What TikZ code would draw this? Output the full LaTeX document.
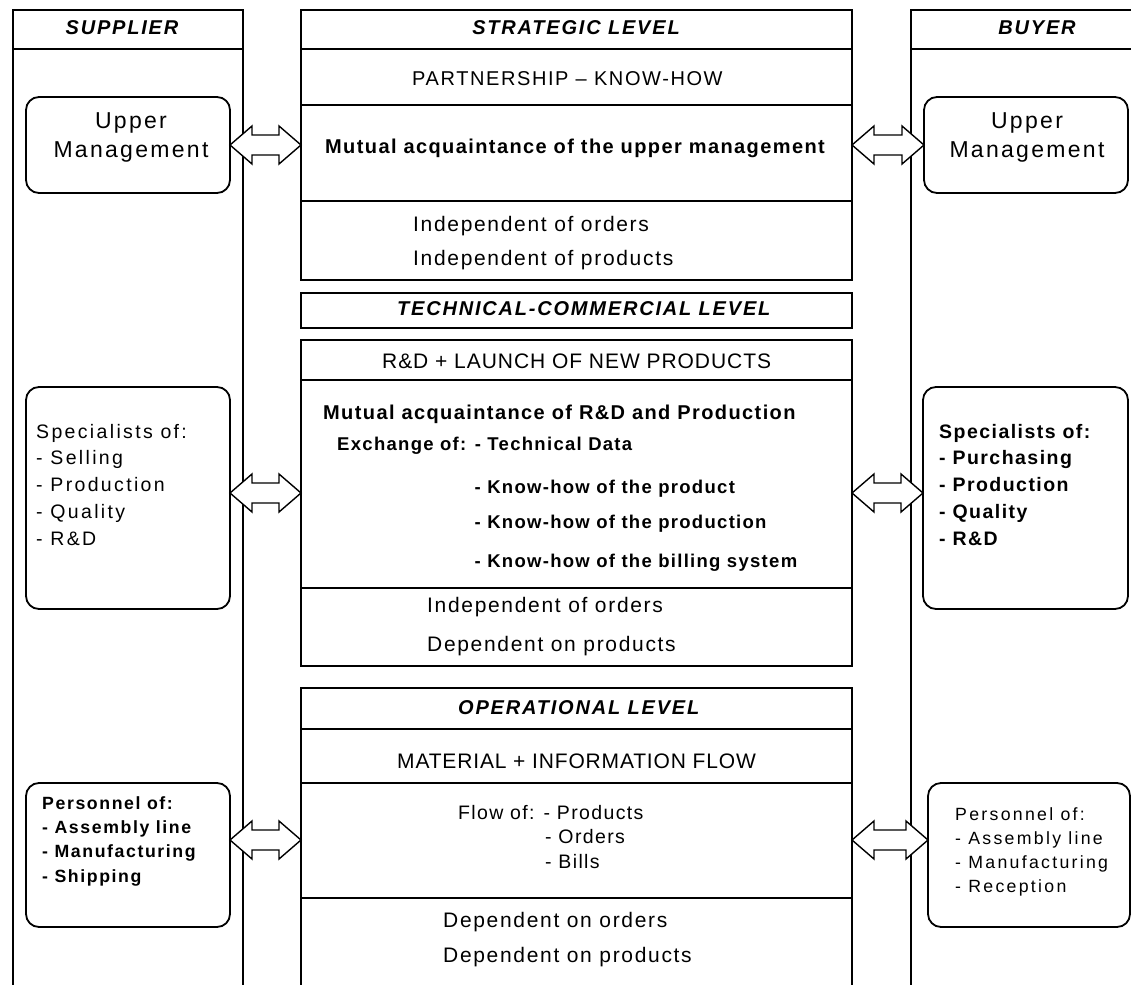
\documentclass[tikz,border=0pt]{standalone}
\usepackage{fontspec}
\setmainfont{Liberation Sans}[LetterSpace=7]
\usetikzlibrary{calc}
\newcommand\fsz[2]{\fontsize{#1}{#2}\selectfont}
\newcommand\lsp[1]{\addfontfeature{LetterSpace=#1}}
\begin{document}
\begin{tikzpicture}[x=1pt,y=-1pt,
  col/.style={draw, line width=1.5pt, inner sep=0pt, outer sep=0pt, anchor=north west},
  cbox/.style={draw, line width=1.8pt, inner sep=0pt, outer sep=0pt, anchor=north west},
  rbox/.style={draw, line width=1.8pt, rounded corners=13pt, inner sep=0pt, outer sep=0pt, anchor=north west},
  thk/.style={line width=2.8pt},
  thn/.style={line width=1.3pt},
  t/.style={inner sep=0pt, anchor=base west},
  hdr/.style={inner sep=0pt, anchor=base, font=\fsz{20}{22}\bfseries\itshape\lsp{9}},
  reg/.style={t, font=\fsz{21}{24}\lsp{8}},
  captxt/.style={t, font=\fsz{21}{24}\lsp{4.5}},
  bld/.style={t, font=\fsz{20}{24}\bfseries},
  exb/.style={t, font=\fsz{18.5}{22}\bfseries},
  flw/.style={t, font=\fsz{19.5}{24}},
  dbl/.style={draw, fill=white, line width=1.4pt, miter limit=10,
    to path={let \p1=(\tikztostart), \p2=(\tikztotarget) in
      (\x1,\y1) -- (\x1+22pt,\y1+19pt) -- (\x1+22pt,\y1+10pt) -- (\x2-22pt,\y1+10pt)
      -- (\x2-22pt,\y1+19pt) -- (\x2,\y1) -- (\x2-22pt,\y1-19pt) -- (\x2-22pt,\y1-10pt)
      -- (\x1+22pt,\y1-10pt) -- (\x1+22pt,\y1-19pt) -- cycle}}
]
\useasboundingbox (0,0) rectangle (1131,984);
\clip (0,0) rectangle (1131,984);
\fill[white] (0,0) rectangle (1131,984);

% side columns
\node[col, minimum width=230, minimum height=1000] (supcol) at (13,10) {};
\node[col, minimum width=252, minimum height=1000] (buycol) at (911,10) {};
\draw[thk] (13,49) -- (243,49);
\draw[thk] (911,49) -- (1163,49);
\node[hdr] (suph) at (122,35) {SUPPLIER};
\node[hdr] (buyh) at (1037,35) {BUYER};

% strategic level
\node[cbox, minimum width=551, minimum height=270] (strat) at (301,10) {};
\draw[thk] (301,49) -- (852,49);
\draw[thn] (301,105) -- (852,105);
\draw[thk] (301,201) -- (852,201);
\node[hdr] (strath) at (576,35) {STRATEGIC LEVEL};
\node[t, font=\fsz{20}{24}\lsp{8}] (part) at (412,86) {PARTNERSHIP – KNOW-HOW};
\node[bld, anchor=base] (mut1) at (575,154) {Mutual acquaintance of the upper management};
\node[reg] (ind1) at (413,232) {Independent of orders};
\node[reg] (ind2) at (413,265) {Independent of products};

% technical-commercial level
\node[cbox, minimum width=551, minimum height=35] (tech) at (301,293) {};
\node[hdr, anchor=base west] (techh) at (397,315.5) {TECHNICAL-COMMERCIAL LEVEL};
\node[cbox, minimum width=551, minimum height=326] (rd) at (301,340) {};
\draw[thk] (301,380) -- (852,380);
\draw[thk] (301,588) -- (852,588);
\node[captxt] (rdt) at (382,368) {R\&D + LAUNCH OF NEW PRODUCTS};
\node[bld] (mut2) at (323,419) {Mutual acquaintance of R\&D and Production};
\node[exb] (ex1) at (337,450) {Exchange of: - Technical Data};
\node[exb] (ex2) at (474.5,493) {- Know-how of the product};
\node[exb] (ex3) at (474.5,528) {- Know-how of the production};
\node[exb] (ex4) at (474.5,567) {- Know-how of the billing system};
\node[reg] (ind3) at (427,612) {Independent of orders};
\node[reg] (dep1) at (427,651) {Dependent on products};

% operational level
\node[cbox, minimum width=551, minimum height=320] (oper) at (301,688) {};
\draw[thn] (301,729) -- (852,729);
\draw[thk] (301,783) -- (852,783);
\draw[thk] (301,898) -- (852,898);
\node[hdr, anchor=base west] (operh) at (458,714) {OPERATIONAL LEVEL};
\node[t, font=\fsz{21}{24}\lsp{4}] (mat) at (397,768) {MATERIAL + INFORMATION FLOW};
\node[flw] (fl1) at (458,819) {Flow of: - Products};
\node[flw] (fl2) at (545,843) {- Orders};
\node[flw] (fl3) at (545,868) {- Bills};
\node[reg] (dep2) at (443,927) {Dependent on orders};
\node[reg] (dep3) at (443,962) {Dependent on products};

% rounded boxes
\node[rbox, minimum width=204, minimum height=96] (um1) at (26,97) {};
\node[rbox, minimum width=204, minimum height=96] (um2) at (924,97) {};
\node[rbox, minimum width=204, minimum height=222] (sp1) at (26,387) {};
\node[rbox, minimum width=205, minimum height=222] (sp2) at (923,387) {};
\node[rbox, minimum width=204, minimum height=144] (pe1) at (26,783) {};
\node[rbox, minimum width=202, minimum height=144] (pe2) at (928,783) {};

\node[inner sep=0pt, anchor=base, align=center, font=\fsz{23}{29}\lsp{10}] (um1t) at (131,158) {Upper\\Management};
\node[inner sep=0pt, anchor=base, align=center, font=\fsz{23}{29}\lsp{10}] (um2t) at (1027,158) {Upper\\Management};
\node[t, align=left, font=\fsz{19.5}{26.8}\lsp{12}] (sp1t) at (36,545.2) {Specialists of:\\- Selling\\- Production\\- Quality\\- R\&D};
\node[t, align=left, font=\fsz{19.5}{26.8}\bfseries\lsp{7.5}] (sp2t) at (939,545.2) {Specialists of:\\- Purchasing\\- Production\\- Quality\\- R\&D};
\node[t, align=left, font=\fsz{17.7}{24.3}\bfseries\lsp{9}] (pe1t) at (42,882) {Personnel of:\\- Assembly line\\- Manufacturing\\- Shipping};
\node[t, align=left, font=\fsz{17.7}{24}\lsp{13}] (pe2t) at (955,892) {Personnel of:\\- Assembly line\\- Manufacturing\\- Reception};

% double arrows
\coordinate (a2l) at ([yshift=5pt]sp1.east);
\coordinate (a2r) at ([yshift=5pt]sp2.west);
\coordinate (a3l) at ([yshift=15pt]pe1.east);
\coordinate (a3r) at ([yshift=15pt]pe2.west);
\draw[dbl] (um1.east) to (strat.west |- um1.east);
\draw[dbl] (strat.east |- um2.west) to (um2.west);
\draw[dbl] (a2l) to (rd.west |- a2l);
\draw[dbl] (rd.east |- a2r) to (a2r);
\draw[dbl] (a3l) to (oper.west |- a3l);
\draw[dbl] (oper.east |- a3r) to (a3r);
\end{tikzpicture}
\end{document}
